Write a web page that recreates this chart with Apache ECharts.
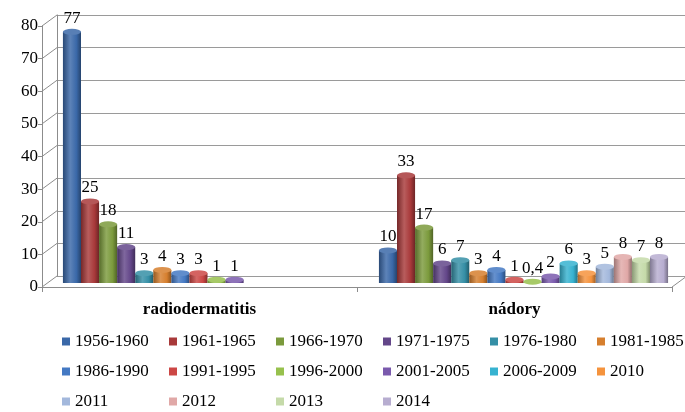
<!DOCTYPE html>
<html>
<head>
<meta charset="utf-8">
<script src="https://cdn.jsdelivr.net/npm/echarts@6/dist/echarts.min.js"></script>
<style>
html,body{margin:0;padding:0;background:#fff;}
#chart{width:685px;height:412px;}
</style>
</head>
<body>
<div id="chart"></div>
<script>
const categories = ['radiodermatitis', 'nádory'];
const seriesNames = ['1956-1960','1961-1965','1966-1970','1971-1975','1976-1980','1981-1985',
  '1986-1990','1991-1995','1996-2000','2001-2005','2006-2009','2010','2011','2012','2013','2014'];
const radiodermatitisValues = [77,25,18,11,3,4,3,3,1,1,null,null,null,null,null,null];
const nadoryValues = [10,33,17,6,7,3,4,1,0.4,2,6,3,5,8,7,8];
const yTicks = [0,10,20,30,40,50,60,70,80];
const colors = ['#3a68a8','#a8393a','#7b9a3c','#634689','#358fa6','#d67f2e',
  '#4479c3','#cc4745','#97c14d','#7a5aad','#36b2d0','#f5933d','#a3b8dc','#e0a8a7','#c5daa9','#b7add0'];

const FONT = '"Liberation Serif", "Times New Roman", serif';

function shade(hex, amt) {
  let r = parseInt(hex.slice(1,3),16), g = parseInt(hex.slice(3,5),16), b = parseInt(hex.slice(5,7),16);
  const f = c => amt >= 0 ? Math.round(c + (255 - c) * amt) : Math.round(c * (1 + amt));
  return 'rgb(' + f(r) + ',' + f(g) + ',' + f(b) + ')';
}

const chart = echarts.init(document.getElementById('chart'));

const series = [];
seriesNames.forEach((name, i) => {
  const data = [radiodermatitisValues[i], nadoryValues[i]];
  const c = colors[i];
  series.push({
    type: 'bar', name: name, xAxisIndex: 2, yAxisIndex: 2,
    data: data, barCategoryGap: '8.5%', barGap: '0%',
    itemStyle: {
      color: new echarts.graphic.LinearGradient(0, 0, 1, 0, [
        {offset: 0, color: shade(c, -0.3)},
        {offset: 0.4, color: shade(c, 0.18)},
        {offset: 0.75, color: c},
        {offset: 1, color: shade(c, -0.35)}
      ])
    },
    label: {
      show: true, position: 'top', distance: 5,
      fontFamily: FONT, fontSize: 17, color: '#000',
      formatter: p => String(p.value).replace('.', ',')
    },
    z: 3
  });
  series.push({
    type: 'pictorialBar', name: name, xAxisIndex: 2, yAxisIndex: 2,
    data: data, barCategoryGap: '8.5%', barGap: '0%',
    symbol: 'circle', symbolSize: ['100%', 6], symbolPosition: 'end', symbolOffset: [0, '-50%'],
    itemStyle: { color: shade(c, 0.15) },
    z: 4, silent: true
  });
});

// 3D frame: diagonal connectors from front axis to the back wall
series.push({
  type: 'custom', xAxisIndex: 0, yAxisIndex: 0,
  data: yTicks.map(v => [0, v]),
  renderItem: function (params, api) {
    const v = api.value(1);
    const y = api.coord([0, v])[1];
    const x0 = params.coordSys.x;
    const children = [{
      type: 'line', shape: {x1: x0, y1: y, x2: x0 + 15, y2: y - 11},
      style: {stroke: '#8c8c8c', lineWidth: 1}
    }];
    if (v === 0) {
      const x1 = params.coordSys.x + params.coordSys.width;
      children.push({
        type: 'line', shape: {x1: x1, y1: y, x2: x1 + 15, y2: y - 11},
        style: {stroke: '#8c8c8c', lineWidth: 1}
      });
    }
    return {type: 'group', children: children};
  },
  silent: true, z: 1
});

const legends = seriesNames.map((name, i) => ({
  data: [{name: name, icon: 'rect', itemStyle: {color: colors[i]}}],
  icon: 'rect',
  left: 62 + 107 * (i % 6),
  top: [333, 363, 393][Math.floor(i / 6)],
  padding: 0, itemWidth: 8, itemHeight: 8, itemGap: 5,
  selectedMode: false,
  textStyle: {fontFamily: FONT, fontSize: 17, color: '#000'}
}));

chart.setOption({
  animation: false,
  backgroundColor: '#fff',
  grid: [
    {left: 42, right: 13, top: 26, bottom: 125},
    {left: 57, right: -2, top: 15, bottom: 136},
    {left: 49.5, right: 3.5, top: 22, bottom: 129}
  ],
  xAxis: [
    {type: 'category', gridIndex: 0, data: categories, boundaryGap: true,
     axisLine: {show: true, lineStyle: {color: '#8c8c8c'}},
     axisTick: {show: true, length: 5, lineStyle: {color: '#8c8c8c'}},
     axisLabel: {fontFamily: FONT, fontSize: 17, fontWeight: 'bold', color: '#000', margin: 14}},
    {type: 'category', gridIndex: 1, data: categories, show: false},
    {type: 'category', gridIndex: 2, data: categories, show: false}
  ],
  yAxis: [
    {type: 'value', gridIndex: 0, min: 0, max: 80, interval: 10,
     axisLine: {show: true, lineStyle: {color: '#8c8c8c'}},
     axisTick: {show: true, length: 4, lineStyle: {color: '#8c8c8c'}},
     splitLine: {show: false},
     axisLabel: {fontFamily: FONT, fontSize: 17, color: '#000', margin: 4}},
    {type: 'value', gridIndex: 1, min: 0, max: 80, interval: 10,
     axisLine: {show: true, lineStyle: {color: '#8c8c8c'}},
     axisTick: {show: false}, axisLabel: {show: false},
     splitLine: {show: true, lineStyle: {color: '#9a9a9a', width: 1}}},
    {type: 'value', gridIndex: 2, min: 0, max: 80, interval: 10, show: false,
     splitLine: {show: false}}
  ],
  legend: legends,
  series: series
});
</script>
</body>
</html>
